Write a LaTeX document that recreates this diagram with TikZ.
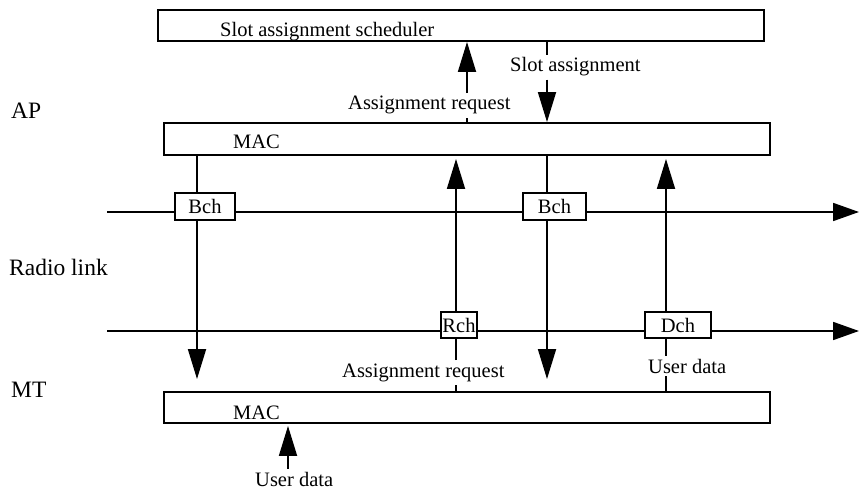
\documentclass[tikz,border=0pt]{standalone}
\usepackage{fontspec}
\setmainfont{Liberation Serif}
\usetikzlibrary{arrows.meta}
\begin{document}
\begin{tikzpicture}[x=1pt,y=-1pt,
  box/.style={draw,line width=1.9pt,inner sep=0pt,minimum height=31pt},
  chan/.style={draw,line width=1.9pt,fill=white,inner sep=0pt,minimum height=27pt,
    font=\fontsize{20.5}{24}\selectfont},
  txt/.style={inner sep=3pt,font=\fontsize{20.5}{24}\selectfont,anchor=base west},
  side/.style={inner sep=0pt,font=\fontsize{23.5}{28}\selectfont,anchor=base west},
  conn/.style={line width=1.8pt},
  arr/.style={conn,-{Triangle[length=30pt,width=18pt]}},
  harr/.style={conn,-{Triangle[length=26pt,width=18pt]}}]
\useasboundingbox (0,0) rectangle (859,492);

% x positions of the vertical signal paths
\coordinate (xa) at (197,0);
\coordinate (xb) at (467,0);
\coordinate (xc) at (547,0);
\coordinate (xd) at (456,0);
\coordinate (xe) at (666,0);
\coordinate (xf) at (288,0);

% radio link channels
\coordinate (l1w) at (107,212);
\coordinate (l1e) at (859,212);
\coordinate (l2w) at (107,331);
\coordinate (l2e) at (859,331);
\draw[harr] (l1w) -- (l1e);
\draw[harr] (l2w) -- (l2e);

% layer boxes
\node[box,minimum width=606pt] (sched) at (461,25.5) {};
\node[txt] (schedtxt) at (217,37) {Slot assignment scheduler};
\node[box,minimum width=606pt,minimum height=32pt] (apmac) at (467,139) {};
\node[txt] (apmactxt) at (230,148) {MAC};
\node[box,minimum width=606pt] (mtmac) at (467,407.5) {};
\node[txt] (mtmactxt) at (230,419) {MAC};

% side labels
\node[side] (ap) at (11,118.5) {AP};
\node[side] (radio) at (9,275) {Radio link};
\node[side] (mt) at (11,397) {MT};

% channel boxes
\node[chan,minimum width=60pt] (bch1) at (205,206.5) {Bch};
\node[chan,minimum width=63pt] (bch2) at (554.5,206.5) {Bch};
\node[chan,minimum width=36pt,minimum height=26pt] (rch) at (459,325) {Rch};
\node[chan,minimum width=66pt,minimum height=26pt] (dch) at (678,325) {Dch};

% signal labels
\node[txt] (slot) at (507,72) {Slot assignment};
\node[txt] (req1) at (345,110) {Assignment request};
\node[txt] (req2) at (339,377) {Assignment request};
\node[txt] (ud2) at (645,373) {User data};
\node[txt] (ud1) at (252,486) {User data};

% broadcast downlink
\draw[conn] (apmac.south -| xa) -- (bch1.north -| xa);
\draw[arr,shorten >=12pt] (bch1.south -| xa) -- (mtmac.north -| xa);

% AP request to the scheduler
\draw[conn] (apmac.north -| xb) -- (req1.south -| xb);
\draw[arr] (req1.north -| xb) -- (sched.south -| xb);

% slot assignment back down to the terminal
\draw[conn] (sched.south -| xc) -- (slot.north -| xc);
\draw[arr] (slot.south -| xc) -- (apmac.north -| xc);
\draw[conn] (apmac.south -| xc) -- (bch2.north -| xc);
\draw[arr,shorten >=12pt] (bch2.south -| xc) -- (mtmac.north -| xc);

% random access request uplink
\draw[conn] (mtmac.north -| xd) -- (req2.south -| xd);
\draw[conn] (req2.north -| xd) -- (rch.south -| xd);
\draw[arr,shorten >=3pt] (rch.north -| xd) -- (apmac.south -| xd);

% user data uplink
\draw[conn] (mtmac.north -| xe) -- (ud2.south -| xe);
\draw[conn] (ud2.north -| xe) -- (dch.south -| xe);
\draw[arr,shorten >=3pt] (dch.north -| xe) -- (apmac.south -| xe);

% user data into the terminal MAC
\draw[arr,shorten >=2pt] (ud1.north -| xf) -- (mtmac.south -| xf);
\end{tikzpicture}
\end{document}
